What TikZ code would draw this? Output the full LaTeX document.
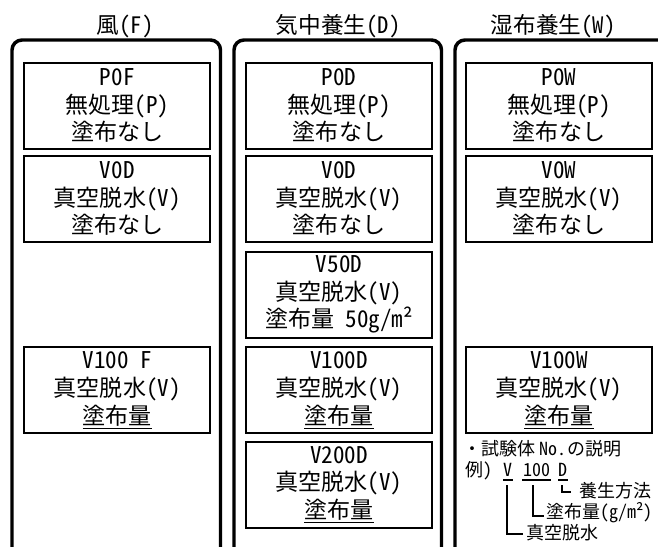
\documentclass[tikz,border=0pt]{standalone}
\usepackage{fontspec}
\setmainfont[RawFeature=+hwid]{Noto Sans CJK JP}
\begin{document}
\begin{tikzpicture}[x=0.75pt,y=-0.75pt,
  frame/.style={line width=2.6pt,rounded corners=7.5pt},
  coltitle/.style={inner sep=0pt,font=\fontsize{17}{20}\selectfont},
  specbox/.style={draw,line width=1.5pt,minimum width=139.5pt,minimum height=64.5pt,
    inner sep=0pt,align=center,font=\fontsize{17.3}{20.7}\selectfont},
  legend/.style={inner sep=0pt,text height=9.5pt,text depth=2pt,font=\fontsize{13.5}{16}\selectfont},
  uline/.style={line width=1.1pt},
  bracket/.style={line width=1.4pt}]
\useasboundingbox (0,0) rectangle (658,547);
\clip (0,0) rectangle (658,547);
% column titles
\node[coltitle] (tF) at (125,26.5) {風(F)};
\node[coltitle] (tD) at (338,26.5) {気中養生(D)};
\node[coltitle] (tW) at (553,26.5) {湿布養生(W)};
% column frames
\draw[frame] (12,580) -- (12,40) -- (220.5,40) -- (220.5,580);
\draw[frame] (234,580) -- (234,40) -- (441.5,40) -- (441.5,580);
\draw[frame] (455,580) -- (455,40) -- (690,40) -- (690,580);
% column F
\node[specbox] (P0F) at (117.25,105.5) {P0F\\無処理(P)\\塗布なし};
\node[specbox] (V0F) at (117.25,198.5) {V0D\\真空脱水(V)\\塗布なし};
\node[specbox] (V100F) at (117.25,390.25) {V100 F\\真空脱水(V)\\\underline{塗布量}};
% column D
\node[specbox] (P0D) at (339,105.5) {P0D\\無処理(P)\\塗布なし};
\node[specbox] (V0D) at (339,198.5) {V0D\\真空脱水(V)\\塗布なし};
\node[specbox] (V50D) at (339,294.5) {V50D\\真空脱水(V)\\塗布量 50g/m²};
\node[specbox] (V100D) at (339,390.25) {V100D\\真空脱水(V)\\\underline{塗布量}};
\node[specbox] (V200D) at (339,484.5) {V200D\\真空脱水(V)\\\underline{塗布量}};
% column W
\node[specbox] (P0W) at (559,105.5) {P0W\\無処理(P)\\塗布なし};
\node[specbox] (V0W) at (559,198.5) {V0W\\真空脱水(V)\\塗布なし};
\node[specbox] (V100W) at (559,390.25) {V100W\\真空脱水(V)\\\underline{塗布量}};
% legend
\node[legend,anchor=west] (lg1) at (463,450) {・試験体\hspace{3pt}No.\hspace{1pt}の説明};
\node[legend,anchor=west] (lg2) at (465,471) {例）};
\node[legend] (lV) at (508,471) {V};
\node[legend] (l100) at (536.5,471) {100};
\node[legend] (lD) at (563,471) {D};
\draw[uline] (503,480) -- (512.5,480);
\draw[uline] (522,480) -- (550.5,480);
\draw[uline] (558,480) -- (568,480);
\coordinate (bD) at (562,485);
\coordinate (b100) at (533,485);
\coordinate (bV) at (507,485);
\node[legend,anchor=west] (xD) at (579,492) {養生方法};
\node[legend,anchor=west] (x100) at (546,513) {塗布量(g/m²)};
\node[legend,anchor=west] (xV) at (526,534) {真空脱水};
\draw[bracket] (bD) |- ([xshift=-6pt]xD.west);
\draw[bracket] (b100) |- ([xshift=-1.5pt,yshift=-2.5pt]x100.west);
\draw[bracket] (bV) |- ([xshift=-2.5pt]xV.west);
\end{tikzpicture}
\end{document}
